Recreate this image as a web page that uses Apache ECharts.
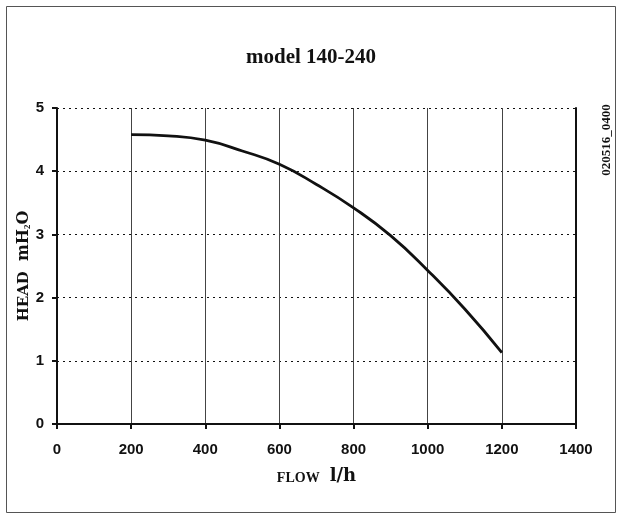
<!DOCTYPE html>
<html>
<head>
<meta charset="utf-8">
<script src="https://cdn.jsdelivr.net/npm/echarts@6/dist/echarts.min.js"></script>
<style>
  html, body { margin: 0; padding: 0; background: #fff; }
  #chart { width: 622px; height: 522px; }
</style>
</head>
<body>
<div id="chart"></div>
<script>
// Pump curve: flow (l/h) against head (m H2O)
const flowValues = [200, 300, 400, 500, 600, 700, 800, 900, 1000, 1100, 1200];
const headValues = [4.58, 4.56, 4.49, 4.32, 4.11, 3.79, 3.42, 2.98, 2.43, 1.82, 1.13];
const chartTitle = 'model 140-240';
const drawingCode = '020516_0400';

const serif = '"Liberation Serif", "DejaVu Serif", serif';
const wideSerif = '"DejaVu Serif", "Liberation Serif", serif';
const sans = '"Liberation Sans", Arial, sans-serif';

const chart = echarts.init(document.getElementById('chart'));
chart.setOption({
  animation: false,
  backgroundColor: '#fff',
  title: {
    text: chartTitle,
    left: 'center',
    top: 42,
    textStyle: { fontFamily: serif, fontWeight: 'bold', fontSize: 21, color: '#111' }
  },
  grid: { left: 57, right: 46, top: 108, bottom: 98 },
  xAxis: {
    type: 'value', min: 0, max: 1400, interval: 200,
    name: '{a|FLOW}   {b|l/h}',
    nameLocation: 'middle', nameGap: 41,
    nameMoveOverlap: false,
    nameTextStyle: {
      rich: {
        a: { fontFamily: serif, fontWeight: 'bold', fontSize: 14, color: '#111', lineHeight: 20, verticalAlign: 'bottom' },
        b: { fontFamily: wideSerif, fontWeight: 'bold', fontSize: 18, color: '#111', lineHeight: 20, verticalAlign: 'bottom' }
      }
    },
    axisLine: { show: true, lineStyle: { color: '#111', width: 2 } },
    axisTick: { show: true, inside: false, length: 5, lineStyle: { color: '#111', width: 2 } },
    axisLabel: {
      fontFamily: sans, fontWeight: 'bold', fontSize: 15, color: '#111', margin: 18,
      formatter: v => String(v)
    },
    splitLine: { show: true, lineStyle: { color: '#444', width: 1, type: 'solid' } }
  },
  yAxis: [{
    type: 'value', min: 0, max: 5, interval: 1,
    name: '{a|HEAD}   {m|mH}{s|2}{m|O}',
    nameLocation: 'middle', nameGap: 25,
    nameMoveOverlap: false,
    nameTextStyle: {
      rich: {
        a: { fontFamily: wideSerif, fontWeight: 'bold', fontSize: 15, color: '#111', lineHeight: 22, verticalAlign: 'bottom' },
        m: { fontFamily: wideSerif, fontWeight: 'bold', fontSize: 16, color: '#111', lineHeight: 22, verticalAlign: 'bottom' },
        s: { fontFamily: serif, fontWeight: 'bold', fontSize: 9, color: '#111', lineHeight: 6, verticalAlign: 'bottom' }
      }
    },
    axisLine: { show: true, lineStyle: { color: '#111', width: 2 } },
    axisTick: { show: true, inside: false, length: 5, lineStyle: { color: '#111', width: 2 } },
    axisLabel: { fontFamily: sans, fontWeight: 'bold', fontSize: 15, color: '#111', margin: 13 },
    splitLine: { show: true, lineStyle: { color: '#111', width: 1, type: [2, 4] } }
  }, {
    type: 'value', min: 0, max: 5, interval: 1, position: 'right',
    axisLine: { show: true, lineStyle: { color: '#111', width: 2 } },
    axisTick: { show: false }, axisLabel: { show: false }, splitLine: { show: false }
  }],
  series: [{
    type: 'line',
    data: flowValues.map((f, i) => [f, headValues[i]]),
    smooth: true,
    showSymbol: false,
    lineStyle: { color: '#111', width: 2.8 }
  }],
  graphic: [
    {
      type: 'rect', z: -1,
      shape: { x: 6.5, y: 6.5, width: 609, height: 506 },
      style: { fill: 'none', stroke: '#555', lineWidth: 1 }
    },
    {
      type: 'text', x: 607, y: 140, rotation: Math.PI / 2,
      style: {
        text: drawingCode, fontFamily: serif, fontWeight: 'bold', fontSize: 13,
        fill: '#111', align: 'center', verticalAlign: 'middle'
      }
    }
  ]
});
</script>
</body>
</html>
